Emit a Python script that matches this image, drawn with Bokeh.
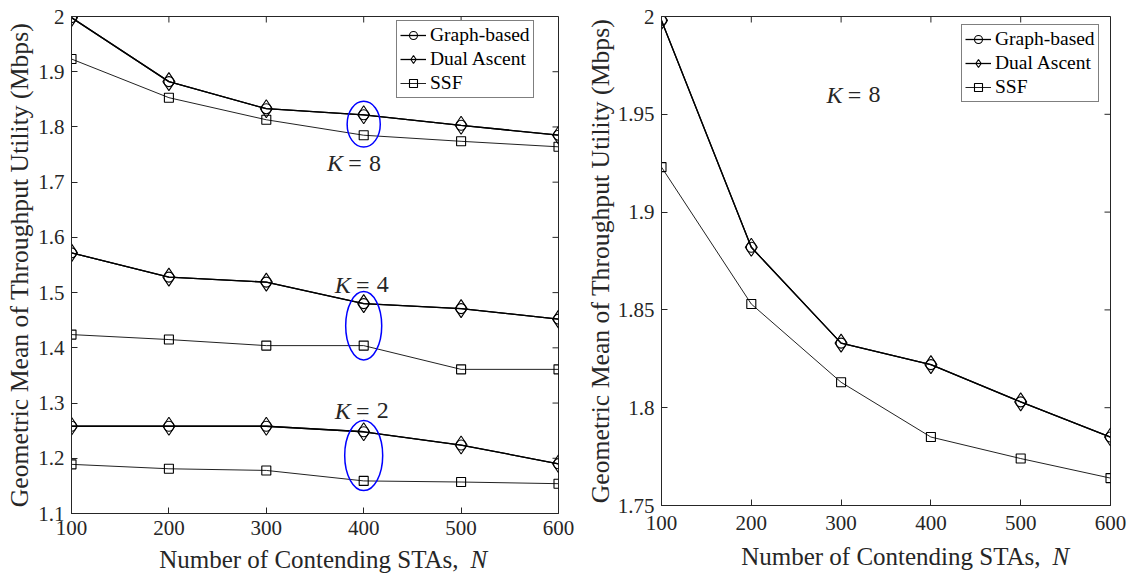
import math
from bokeh.plotting import figure
from bokeh.layouts import row, column
from bokeh.models import FixedTicker, Legend, LegendItem
from bokeh.core.properties import value
from bokeh.embed import file_html
from bokeh.resources import INLINE

# ---------------- data ----------------
N = [100, 200, 300, 400, 500, 600]

graph_k8 = [1.998, 1.882, 1.833, 1.822, 1.803, 1.785]
dual_k8 = [1.998, 1.882, 1.833, 1.822, 1.803, 1.785]
ssf_k8 = [1.923, 1.853, 1.813, 1.785, 1.774, 1.764]

graph_k4 = [1.572, 1.528, 1.519, 1.480, 1.471, 1.452]
dual_k4 = [1.572, 1.528, 1.519, 1.480, 1.471, 1.452]
ssf_k4 = [1.424, 1.415, 1.404, 1.404, 1.361, 1.361]

graph_k2 = [1.258, 1.258, 1.258, 1.248, 1.224, 1.190]
dual_k2 = [1.258, 1.258, 1.258, 1.248, 1.224, 1.190]
ssf_k2 = [1.189, 1.181, 1.178, 1.159, 1.157, 1.154]

x_ticks = [100, 200, 300, 400, 500, 600]
left_y_ticks = [1.1, 1.2, 1.3, 1.4, 1.5, 1.6, 1.7, 1.8, 1.9, 2.0]
left_y_labels = ["1.1", "1.2", "1.3", "1.4", "1.5", "1.6", "1.7", "1.8", "1.9", "2"]
right_y_ticks = [1.75, 1.8, 1.85, 1.9, 1.95, 2.0]
right_y_labels = ["1.75", "1.8", "1.85", "1.9", "1.95", "2"]

x_title = "Number of Contending STAs,"
x_title_var = "N"
y_title = "Geometric Mean of Throughput Utility (Mbps)"

# annotations (left panel)
ell_x = [400, 400, 400]
ell_y = [1.805, 1.440, 1.205]
ell_w = [34, 37, 39]
ell_h = [0.083, 0.124, 0.127]
k_left_x = [391, 399, 399]
k_left_y = [1.734, 1.514, 1.286]
k_left_vals = ["8", "4", "2"]
# annotation (right panel)
k_right_x = [315]
k_right_y = [1.960]
k_right_vals = ["8"]

FONT = "Liberation Serif"
TXT = "#262626"
AX = "#262626"
TITLE_SIZE = "25.7px"
XTITLE_SIZE = "25px"


def style(p, xr, yr, yticks, ylabels, ylab_standoff, x_standoff):
    p.xaxis.ticker = FixedTicker(ticks=x_ticks)
    p.yaxis.ticker = FixedTicker(ticks=yticks)
    p.yaxis.major_label_overrides = {t: l for t, l in zip(yticks, ylabels)}
    p.xgrid.visible = False
    p.ygrid.visible = False
    for ax in (p.xaxis[0], p.yaxis[0]):
        ax.major_tick_in = 6
        ax.major_tick_out = 0
        ax.minor_tick_in = 0
        ax.minor_tick_out = 0
        ax.axis_line_color = AX
        ax.major_tick_line_color = AX
        ax.major_label_text_font = FONT
        ax.major_label_text_font_size = "21px"
        ax.major_label_text_color = TXT
    p.yaxis.axis_label = y_title
    p.yaxis.axis_label_text_font = FONT
    p.yaxis.axis_label_text_font_size = TITLE_SIZE
    p.yaxis.axis_label_text_font_style = "normal"
    p.yaxis.axis_label_text_color = TXT
    p.yaxis.axis_label_standoff = ylab_standoff
    p.xaxis.major_label_standoff = x_standoff
    p.yaxis.major_label_standoff = 7
    p.outline_line_color = AX
    p.outline_line_width = 1
    # inward ticks on the top and right edges of the box
    p.ray(x=x_ticks, y=[yr[1]] * len(x_ticks), length=6, length_units="screen",
          angle=-math.pi / 2, line_color=AX, line_width=1)
    p.ray(x=[xr[1]] * len(yticks), y=yticks, length=6, length_units="screen",
          angle=math.pi, line_color=AX, line_width=1)


def title_fig(width, height, n_start, base):
    t = figure(width=width, height=height, x_range=(0, width), y_range=(0, height),
               output_backend="svg", toolbar_location=None, x_axis_type=None,
               y_axis_type=None, min_border=0, frame_align=False)
    t.outline_line_color = None
    t.xgrid.visible = False
    t.ygrid.visible = False
    t.text(x=[n_start - 12], y=[base], text=[x_title], text_font=value(FONT),
           text_font_size=XTITLE_SIZE, text_color=TXT, text_align="right",
           text_baseline="middle")
    t.text(x=[n_start], y=[base], text=[x_title_var], text_font=value(FONT),
           text_font_size=XTITLE_SIZE, text_font_style="italic", text_color=TXT,
           text_align="left", text_baseline="middle")
    return t


def series(p, ys, marker, size, lw, color="black"):
    l = p.line(N, ys, line_color=color, line_width=lw)
    s = p.scatter(N, ys, marker=marker, size=size, fill_color=None,
                  line_color="black", line_width=1.1)
    return [l, s]


def k_label(p, xs, ys, vals):
    n = len(xs)
    p.text(x=xs, y=ys, text=["K"] * n, text_font=value(FONT), text_font_size="24px",
           text_font_style="italic", text_align="right", text_baseline="middle",
           x_offset=-12, text_color=TXT)
    p.text(x=xs, y=ys, text=["="] * n, text_font=value(FONT),
           text_font_size="24px", text_align="center", text_baseline="middle",
           x_offset=0, text_color=TXT)
    p.text(x=xs, y=ys, text=vals, text_font=value(FONT),
           text_font_size="24px", text_align="left", text_baseline="middle",
           x_offset=14, text_color=TXT)


def legend(p, items, loc):
    lg = Legend(items=items, location=loc, label_text_font=FONT,
                label_text_font_size="19.5px", label_text_color="black",
                border_line_color="black", border_line_width=1,
                background_fill_color="white", background_fill_alpha=1,
                glyph_width=26, glyph_height=20, label_height=20, spacing=2,
                padding=3, margin=0, label_standoff=4)
    p.add_layout(lg, "center")


# ---------------- left figure ----------------
LX = (100, 600)
LY = (1.1, 2.0)
LH = 544
p1 = figure(width=580, height=LH, x_range=LX, y_range=LY,
            output_backend="svg", toolbar_location=None, frame_align=False,
            min_border_left=71, min_border_right=22, min_border_top=16,
            min_border_bottom=LH - 16 - 497)
style(p1, LX, LY, left_y_ticks, left_y_labels, 1, 7)

g8 = series(p1, graph_k8, "circle", 10, 1.3)
d8 = series(p1, dual_k8, "diamond", 18, 1.3)
s8 = series(p1, ssf_k8, "square", 9, 1.0, "#222222")
series(p1, graph_k4, "circle", 10, 1.3)
series(p1, dual_k4, "diamond", 18, 1.3)
series(p1, ssf_k4, "square", 9, 1.0, "#222222")
series(p1, graph_k2, "circle", 10, 1.3)
series(p1, dual_k2, "diamond", 18, 1.3)
series(p1, ssf_k2, "square", 9, 1.0, "#222222")

p1.ellipse(x=ell_x, y=ell_y, width=ell_w, height=ell_h, fill_color=None,
           line_color="#0000ff", line_width=1.5)
k_label(p1, k_left_x, k_left_y, k_left_vals)
legend(p1, [LegendItem(label="Graph-based", renderers=g8),
            LegendItem(label="Dual Ascent", renderers=d8),
            LegendItem(label="SSF", renderers=s8)], (325, 415))
t1 = title_fig(580, 573 - LH, 470, 14.5)

# ---------------- right figure ----------------
RX = (100, 600)
RY = (1.75, 2.0)
RH = 539
p2 = figure(width=556, height=RH, x_range=RX, y_range=RY,
            output_backend="svg", toolbar_location=None, frame_align=False,
            min_border_left=81, min_border_right=26, min_border_top=16,
            min_border_bottom=RH - 16 - 489)
style(p2, RX, RY, right_y_ticks, right_y_labels, 0, 10)

rg = series(p2, graph_k8, "circle", 10, 1.3)
rd = series(p2, dual_k8, "diamond", 18, 1.3)
rs = series(p2, ssf_k8, "square", 9, 1.0, "#222222")
k_label(p2, k_right_x, k_right_y, k_right_vals)
legend(p2, [LegendItem(label="Graph-based", renderers=rg),
            LegendItem(label="Dual Ascent", renderers=rd),
            LegendItem(label="SSF", renderers=rs)], (300, 403))
t2 = title_fig(556, 573 - RH, 472, 17)

layout = row(column(p1, t1), column(p2, t2))
open("out.html", "w").write(file_html(layout, INLINE))
